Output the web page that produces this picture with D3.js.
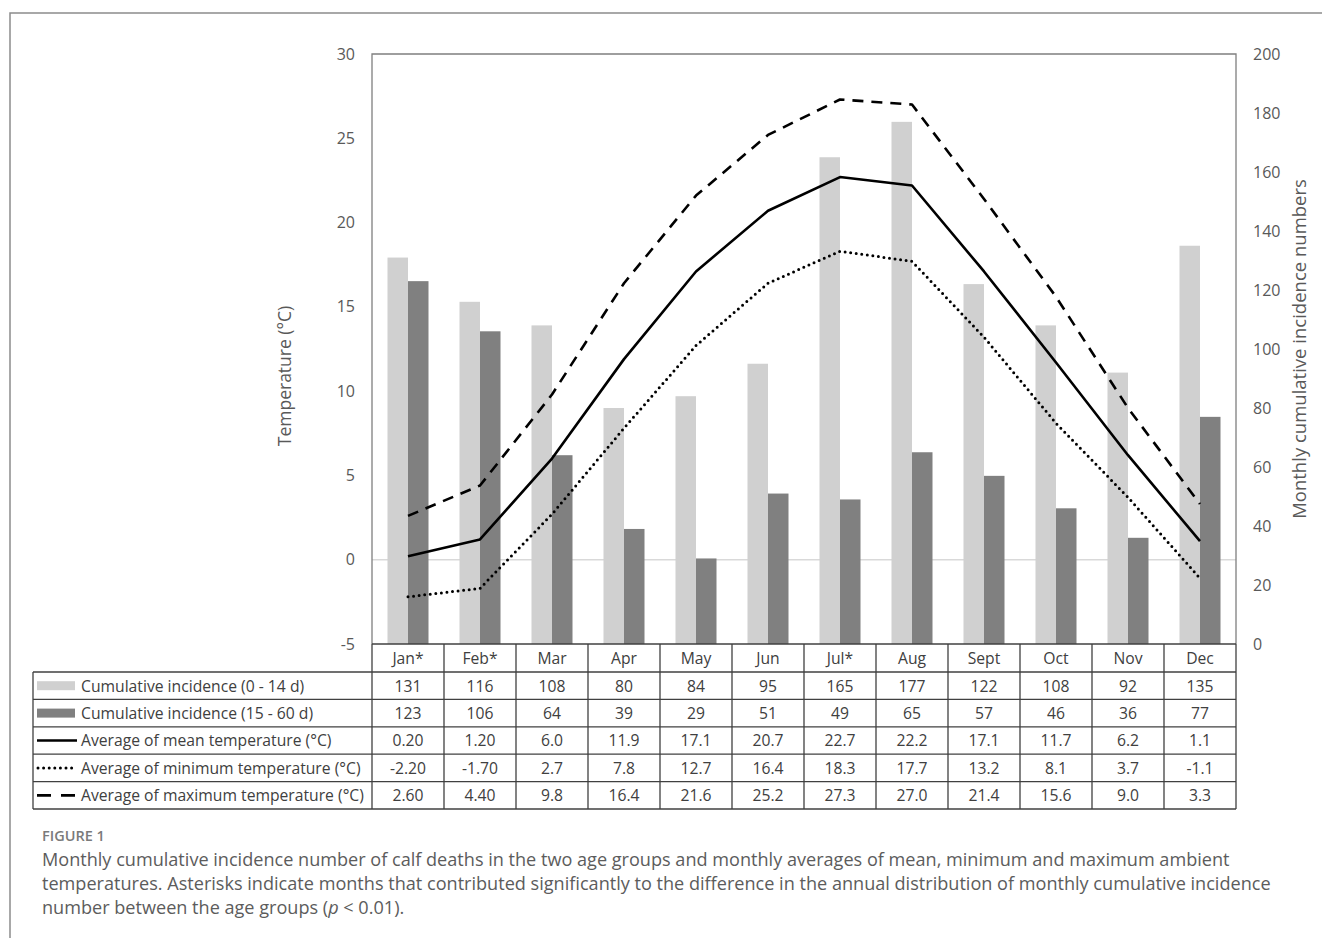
<!DOCTYPE html>
<html>
<head>
<meta charset="utf-8">
<script src="https://cdn.jsdelivr.net/npm/d3@7"></script>
<style>
  body { margin: 0; background: #fff; }
  svg { display: block; font-family: "Open Sans", sans-serif; }
</style>
</head>
<body>
<svg width="1322" height="938"></svg>
<script>
// table / chart data
var months = ["Jan*", "Feb*", "Mar", "Apr", "May", "Jun", "Jul*", "Aug", "Sept", "Oct", "Nov", "Dec"];
var incidenceYoung = ["131", "116", "108", "80", "84", "95", "165", "177", "122", "108", "92", "135"];
var incidenceOld = ["123", "106", "64", "39", "29", "51", "49", "65", "57", "46", "36", "77"];
var meanTemp = ["0.20", "1.20", "6.0", "11.9", "17.1", "20.7", "22.7", "22.2", "17.1", "11.7", "6.2", "1.1"];
var minTemp = ["-2.20", "-1.70", "2.7", "7.8", "12.7", "16.4", "18.3", "17.7", "13.2", "8.1", "3.7", "-1.1"];
var maxTemp = ["2.60", "4.40", "9.8", "16.4", "21.6", "25.2", "27.3", "27.0", "21.4", "15.6", "9.0", "3.3"];
var tempTicks = [-5, 0, 5, 10, 15, 20, 25, 30];
var countTicks = [0, 20, 40, 60, 80, 100, 120, 140, 160, 180, 200];

var rowLabels = [
    "Cumulative incidence (0 - 14 d)",
    "Cumulative incidence (15 - 60 d)",
    "Average of mean temperature (°C)",
    "Average of minimum temperature (°C)",
    "Average of maximum temperature (°C)"
];
var rows = [incidenceYoung, incidenceOld, meanTemp, minTemp, maxTemp];

var plot = {left: 372, right: 1236, top: 54, bottom: 644};
var tableLeft = 33;
var rowH = 27.4;
var textCol = "#595959";
var gridCol = "#404040";
var tableFont = "15.7px";

var svg = d3.select("svg");

// outer frame (only top and left visible)
svg.append("path")
    .attr("d", "M10,945 L10,13 L1330,13")
    .attr("fill", "none")
    .attr("stroke", "#8c8c8c")
    .attr("stroke-width", 1.5);

var xScale = d3.scaleBand()
    .domain(months)
    .range([plot.left, plot.right]);

var yTemp = d3.scaleLinear()
    .domain([-5, 30])
    .range([plot.bottom, plot.top]);

var yCount = d3.scaleLinear()
    .domain([0, 200])
    .range([plot.bottom, plot.top]);

var barW = 20.5;
function center(m) { return xScale(m) + xScale.bandwidth() / 2; }

// zero line
svg.append("line")
    .attr("x1", plot.left).attr("x2", plot.right)
    .attr("y1", yTemp(0)).attr("y2", yTemp(0))
    .attr("stroke", "#d9d9d9")
    .attr("stroke-width", 1.5);

// bars
svg.append("g").selectAll("rect")
    .data(months)
    .enter().append("rect")
    .attr("x", function(m) { return center(m) - barW; })
    .attr("y", function(m, i) { return yCount(+incidenceYoung[i]); })
    .attr("width", barW)
    .attr("height", function(m, i) { return yCount(0) - yCount(+incidenceYoung[i]); })
    .attr("fill", "#d0d0d0");

svg.append("g").selectAll("rect")
    .data(months)
    .enter().append("rect")
    .attr("x", function(m) { return center(m); })
    .attr("y", function(m, i) { return yCount(+incidenceOld[i]); })
    .attr("width", barW)
    .attr("height", function(m, i) { return yCount(0) - yCount(+incidenceOld[i]); })
    .attr("fill", "#808080");

// temperature lines
var line = d3.line()
    .x(function(d, i) { return center(months[i]); })
    .y(function(d) { return yTemp(+d); });

var lineStyles = [
    {data: meanTemp, dash: null, cap: "butt"},
    {data: minTemp, dash: "0,5.6", cap: "round"},
    {data: maxTemp, dash: "11,8", cap: "butt"}
];

lineStyles.forEach(function(s) {
    svg.append("path")
        .attr("d", line(s.data))
        .attr("fill", "none")
        .attr("stroke", "#000")
        .attr("stroke-width", s.cap == "round" ? 3 : 2.6)
        .attr("stroke-linecap", s.cap)
        .attr("stroke-linejoin", "round")
        .attr("stroke-dasharray", s.dash);
});

// plot frame
svg.append("path")
    .attr("d", "M" + plot.left + "," + plot.bottom + " V" + plot.top + " H" + plot.right + " V" + plot.bottom)
    .attr("fill", "none")
    .attr("stroke", "#7f7f7f")
    .attr("stroke-width", 1.3);

// axes
var plain = function(d) { return String(d); };

var leftAxis = svg.append("g")
    .attr("transform", "translate(" + plot.left + ",0)")
    .call(d3.axisLeft(yTemp).tickValues(tempTicks).tickFormat(plain).tickSize(0).tickPadding(17));

var rightAxis = svg.append("g")
    .attr("transform", "translate(" + plot.right + ",0)")
    .call(d3.axisRight(yCount).tickValues(countTicks).tickFormat(plain).tickSize(0).tickPadding(17));

[leftAxis, rightAxis].forEach(function(a) {
    a.select(".domain").remove();
    a.selectAll("text")
        .attr("fill", textCol)
        .style("font-size", "16px")
        .style("font-family", "Open Sans");
});

// axis titles
svg.append("text")
    .attr("transform", "translate(291,376) rotate(-90)")
    .attr("text-anchor", "middle")
    .attr("fill", textCol)
    .style("font-size", "17.5px")
    .text("Temperature (°C)");

svg.append("text")
    .attr("transform", "translate(1306,349) rotate(-90)")
    .attr("text-anchor", "middle")
    .attr("fill", textCol)
    .style("font-size", "18.5px")
    .text("Monthly cumulative incidence numbers");

// data table
var table = svg.append("g");
var headTop = plot.bottom;
var bodyTop = headTop + 28;
var tableBottom = bodyTop + rowH * rows.length;

// month header
table.selectAll(".month")
    .data(months)
    .enter().append("text")
    .attr("x", center)
    .attr("y", headTop + 20)
    .attr("text-anchor", "middle")
    .attr("fill", gridCol)
    .style("font-size", tableFont)
    .text(function(m) { return m; });

// values
rows.forEach(function(r, j) {
    table.append("g").selectAll("text")
        .data(r)
        .enter().append("text")
        .attr("x", function(d, i) { return center(months[i]); })
        .attr("y", bodyTop + rowH * j + 19.5)
        .attr("text-anchor", "middle")
        .attr("fill", gridCol)
        .style("font-size", tableFont)
        .text(function(d) { return d; });

    table.append("text")
        .attr("x", 81)
        .attr("y", bodyTop + rowH * j + 19.5)
        .attr("fill", gridCol)
        .style("font-size", tableFont)
        .text(rowLabels[j]);
});

// legend keys in the label column
var keyY = function(j) { return bodyTop + rowH * j + rowH / 2; };
table.append("rect")
    .attr("x", 37).attr("y", keyY(0) - 4.5).attr("width", 38).attr("height", 9)
    .attr("fill", "#d0d0d0");
table.append("rect")
    .attr("x", 37).attr("y", keyY(1) - 4.5).attr("width", 38).attr("height", 9)
    .attr("fill", "#808080");
table.append("line")
    .attr("x1", 37).attr("x2", 77).attr("y1", keyY(2)).attr("y2", keyY(2))
    .attr("stroke", "#000").attr("stroke-width", 2.6);
table.append("line")
    .attr("x1", 38).attr("x2", 72).attr("y1", keyY(3)).attr("y2", keyY(3))
    .attr("stroke", "#000").attr("stroke-width", 3)
    .attr("stroke-linecap", "round").attr("stroke-dasharray", "0,5.6");
table.append("line")
    .attr("x1", 37).attr("x2", 76).attr("y1", keyY(4)).attr("y2", keyY(4))
    .attr("stroke", "#000").attr("stroke-width", 2.8)
    .attr("stroke-dasharray", "14,10");

// grid lines of the table
var gl = table.append("g")
    .attr("stroke", gridCol)
    .attr("stroke-width", 1.3);

gl.append("line")
    .attr("x1", plot.left).attr("x2", plot.right)
    .attr("y1", headTop).attr("y2", headTop);

d3.range(rows.length + 1).forEach(function(j) {
    gl.append("line")
        .attr("x1", tableLeft).attr("x2", plot.right)
        .attr("y1", bodyTop + rowH * j).attr("y2", bodyTop + rowH * j);
});

gl.append("line")
    .attr("x1", tableLeft).attr("x2", tableLeft)
    .attr("y1", bodyTop).attr("y2", tableBottom);

d3.range(months.length + 1).forEach(function(i) {
    var x = plot.left + xScale.step() * i;
    gl.append("line")
        .attr("x1", x).attr("x2", x)
        .attr("y1", headTop).attr("y2", tableBottom);
});

// caption
svg.append("text")
    .attr("x", 42)
    .attr("y", 841)
    .attr("fill", "#7a7a7a")
    .style("font-size", "14.5px")
    .style("font-weight", 600)
    .text("FIGURE 1");

var caption = [
    "Monthly cumulative incidence number of calf deaths in the two age groups and monthly averages of mean, minimum and maximum ambient",
    "temperatures. Asterisks indicate months that contributed significantly to the difference in the annual distribution of monthly cumulative incidence",
    "number between the age groups ("
];

caption.forEach(function(c, i) {
    var t = svg.append("text")
        .attr("x", 42)
        .attr("y", 866 + 24 * i)
        .attr("fill", "#5c5c5c")
        .style("font-size", "18.1px")
        .text(c);
    if (i == 2) {
        t.append("tspan").style("font-style", "italic").text("p");
        t.append("tspan").text(" < 0.01).");
    }
});
</script>
</body>
</html>
